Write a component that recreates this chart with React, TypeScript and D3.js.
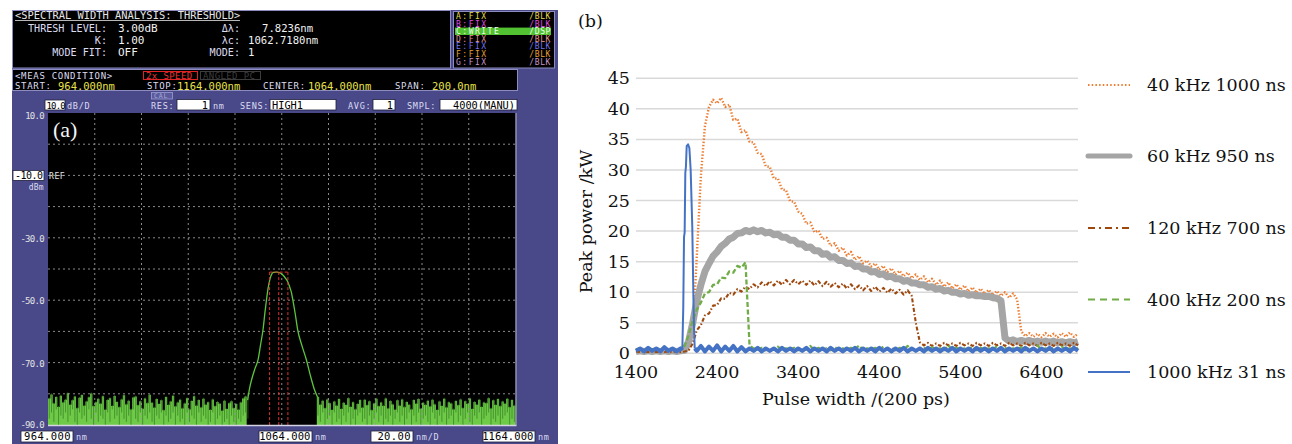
import React from "react";
import * as d3 from "d3";

// ---------- (a) optical spectrum ----------
const spanNm = [964, 1164];
const levelDb = [-90, 10];
const yTickLabels = [10, -30, -50, -70, -90];
const refLevel = -10;
// peak trace [nm, dBm]
const peakTrace: [number, number][] = [
  [1049.4, -82], [1050.3, -78], [1051.1, -75.5], [1052.5, -72], [1053.9, -69], [1055.0, -64],
  [1056.0, -59.4], [1056.8, -54], [1057.5, -49.7], [1058.2, -46], [1058.9, -43.4], [1059.6, -41.8],
  [1060.4, -41.1], [1062.0, -41.0], [1063.1, -41.2], [1064.6, -42], [1065.8, -43.2], [1066.7, -44.3],
  [1067.5, -46], [1068.1, -47.4], [1068.7, -49.7], [1069.8, -54.5], [1070.8, -59.4], [1072.6, -64.5],
  [1074.5, -69], [1076.2, -74], [1078.0, -78.7], [1079.3, -81],
];
// noise floor, 1 nm step
const noiseLeftStart = 964;
const noiseLeftTop = [
  -81.5, -80.2, -83.1, -81.0, -84.2, -80.6, -82.8, -81.9, -79.8, -83.5,
  -82.1, -80.9, -84.6, -81.3, -80.4, -83.8, -82.5, -81.1, -79.9, -84.0,
  -82.7, -81.6, -83.2, -80.8, -85.1, -82.0, -81.4, -83.9, -80.7, -82.6,
  -84.3, -81.8, -80.5, -83.4, -82.2, -85.0, -81.2, -80.9, -83.7, -82.4,
  -84.8, -81.5, -83.0, -80.3, -82.9, -84.5, -81.7, -83.3, -82.1, -85.3,
  -81.0, -83.6, -82.5, -80.6, -84.1, -82.8, -81.9, -84.7, -83.1, -81.4,
  -85.0, -82.3, -80.8, -83.8, -82.0, -84.4, -81.6, -83.5, -82.7, -85.2,
  -81.8, -84.0, -82.6, -83.2, -85.4, -82.2, -84.9, -83.0, -82.4, -84.6,
  -83.3, -85.1, -82.8, -81.5, -80.9, -80.0,
];
const noiseLeftLow = [
  -88, -86, -89, -85, -90, -87, -88, -86, -89, -87,
  -85, -89, -90, -86, -88, -87, -89, -85, -88, -90,
  -86, -89, -87, -88, -90, -86, -89, -85, -88, -87,
  -90, -86, -88, -89, -87, -90, -85, -88, -89, -86,
  -90, -87, -88, -86, -89, -90, -87, -88, -86, -90,
  -87, -89, -88, -86, -90, -87, -89, -88, -90, -86,
  -89, -87, -88, -90, -86, -89, -87, -88, -90, -89,
  -86, -90, -88, -87, -90, -89, -88, -90, -87, -89,
  -90, -88, -89, -87, -86, -88,
];
const noiseRightStart = 1079;
const noiseRightTop = [
  -81.0, -83.5, -82.2, -84.6, -81.8, -83.0, -85.2, -82.5, -83.8, -81.7,
  -84.9, -82.9, -83.6, -81.4, -84.2, -82.7, -85.0, -83.3, -82.0, -84.5,
  -81.9, -83.7, -82.4, -85.3, -83.1, -81.6, -84.0, -82.8, -83.9, -81.5,
  -84.7, -82.3, -83.4, -85.1, -82.1, -83.8, -81.8, -84.3, -82.6, -83.5,
  -85.0, -82.0, -83.2, -81.7, -84.8, -82.9, -83.6, -82.2, -84.1, -81.9,
  -83.4, -85.2, -82.5, -83.9, -81.6, -84.4, -82.7, -83.1, -85.0, -82.3,
  -83.7, -81.8, -84.6, -82.4, -83.3, -81.5, -84.9, -82.6, -83.5, -81.9,
  -84.2, -82.8, -83.0, -81.4, -84.7, -82.1, -83.6, -81.7, -84.0, -82.5,
  -83.2, -81.6, -84.3, -82.0, -83.8, -81.9,
];
const noiseRightLow = [
  -87, -89, -86, -90, -88, -87, -90, -86, -89, -88,
  -90, -87, -89, -86, -90, -88, -90, -87, -86, -89,
  -88, -90, -87, -90, -88, -86, -89, -87, -90, -88,
  -89, -87, -90, -88, -86, -89, -87, -90, -88, -86,
  -90, -87, -89, -86, -90, -88, -87, -89, -90, -86,
  -88, -90, -87, -89, -86, -90, -88, -87, -90, -86,
  -89, -87, -90, -88, -86, -89, -90, -87, -88, -86,
  -90, -88, -87, -86, -90, -88, -89, -87, -90, -88,
  -87, -86, -90, -88, -89, -87,
];
// threshold analysis: λc ± Δλ/2
const lambdaC = 1062.718;
const deltaLambda = 7.8236;
const peakLevel = -41;

const traceRows = [
  { label: "A:FIX", tail: "/BLK", color: "#e6df4e" },
  { label: "B:FIX", tail: "/BLK", color: "#e04ee0" },
  { label: "C:WRITE", tail: "/DSP", color: "#eaffea" },
  { label: "D:FIX", tail: "/BLK", color: "#e49a94" },
  { label: "E:FIX", tail: "/BLK", color: "#7474ee" },
  { label: "F:FIX", tail: "/BLK", color: "#e8a032" },
  { label: "G:FIX", tail: "/BLK", color: "#c896c8" },
];

// ---------- (b) peak power vs pulse width ----------
const pulse = d3.range(1400, 6851, 50);
const xTicksB = [1400, 2400, 3400, 4400, 5400, 6400];
const yTicksB = [0, 5, 10, 15, 20, 25, 30, 35, 40, 45];
const p40k = [
  0.4, 0.2, 0.5, 0.3, 0.4, 0.2, 0.5, 0.3, 0.4, 0.3,
  0.5, 0.3, 0.4, 0.6, 3.0, 16.0, 29.0, 37.2, 40.3, 41.5,
  40.9, 41.8, 40.3, 40.7, 38.2, 38.4, 36.2, 36.5, 34.6, 34.5,
  32.8, 32.6, 30.6, 30.5, 28.6, 28.6, 26.8, 26.7, 24.9, 24.8,
  23.2, 22.8, 21.2, 21.4, 19.8, 20.1, 18.7, 18.9, 17.6, 18.0,
  16.8, 17.3, 16.0, 16.6, 15.3, 15.9, 14.7, 15.2, 14.2, 14.7,
  13.7, 14.3, 13.3, 13.9, 12.9, 13.5, 12.6, 13.2, 12.3, 12.9,
  12.0, 12.6, 11.6, 12.2, 11.2, 11.9, 10.9, 11.6, 10.6, 11.3,
  10.4, 11.1, 10.1, 10.8, 9.9, 10.6, 9.7, 10.4, 9.5, 10.2,
  9.4, 10.0, 9.1, 9.8, 8.8, 3.6, 2.8, 3.3, 2.7, 3.2,
  2.6, 3.3, 2.7, 3.2, 2.6, 3.3, 2.7, 3.4, 2.7, 3.2,
];
const p60k = [
  0.3, 0.4, 0.3, 0.4, 0.3, 0.4, 0.3, 0.4, 0.3, 0.4,
  0.3, 0.4, 0.5, 2.0, 5.0, 8.6, 11.2, 13.4, 14.7, 15.9,
  16.6, 17.5, 18.0, 18.7, 19.0, 19.6, 19.7, 20.1, 19.9, 20.2,
  19.9, 20.1, 19.7, 19.8, 19.4, 19.5, 19.0, 19.0, 18.5, 18.5,
  17.9, 17.9, 17.3, 17.4, 16.8, 16.8, 16.2, 16.3, 15.7, 15.8,
  15.2, 15.2, 14.7, 14.8, 14.2, 14.3, 13.8, 13.8, 13.3, 13.4,
  12.9, 13.0, 12.5, 12.6, 12.2, 12.2, 11.8, 11.9, 11.5, 11.5,
  11.2, 11.2, 10.8, 10.9, 10.5, 10.6, 10.2, 10.3, 10.0, 10.0,
  9.7, 9.8, 9.5, 9.6, 9.4, 9.4, 9.3, 9.3, 9.1, 9.0,
  8.6, 2.5, 2.0, 2.2, 1.9, 2.1, 1.9, 2.1, 1.8, 2.0,
  1.8, 2.0, 1.8, 2.0, 1.7, 1.9, 1.7, 1.9, 1.7, 1.9,
];
const p120k = [
  0.3, 0.2, 0.3, 0.2, 0.3, 0.2, 0.3, 0.2, 0.3, 0.2,
  0.3, 0.2, 0.3, 0.5, 1.6, 3.8, 4.6, 6.2, 6.5, 7.8,
  7.9, 9.0, 8.9, 9.9, 9.6, 10.5, 10.1, 10.9, 10.5, 11.3,
  10.8, 11.6, 11.0, 11.8, 11.1, 11.9, 11.2, 12.0, 11.3, 12.0,
  11.3, 11.9, 11.2, 11.9, 11.1, 11.8, 11.0, 11.7, 10.9, 11.5,
  10.8, 11.4, 10.6, 11.3, 10.5, 11.1, 10.3, 11.0, 10.2, 10.9,
  10.1, 10.7, 9.9, 10.6, 9.8, 10.4, 9.6, 10.3, 9.4, 5.0,
  1.8, 1.3, 1.7, 1.2, 1.6, 1.2, 1.7, 1.3, 1.6, 1.2,
  1.7, 1.3, 1.6, 1.2, 1.7, 1.3, 1.6, 1.2, 1.7, 1.3,
  1.6, 1.2, 1.7, 1.3, 1.6, 1.2, 1.7, 1.3, 1.6, 1.2,
  1.7, 1.3, 1.6, 1.2, 1.7, 1.3, 1.6, 1.2, 1.7, 1.3,
];
const p400k = [
  0.6, 0.8, 0.5, 0.9, 0.6, 0.8, 0.5, 0.9, 0.6, 0.8,
  0.5, 0.7, 1.2, 3.0, 5.4, 7.2, 8.3, 9.8, 10.0, 11.2,
  11.3, 12.4, 12.3, 13.4, 13.2, 14.3, 14.0, 14.9, 1.3, 0.8,
  0.6, 0.9, 0.5, 0.8, 0.6, 1.1, 0.5, 0.8, 0.6, 0.9,
  0.5, 0.8, 0.6, 1.2, 0.5, 0.9, 0.6, 0.8, 0.5, 1.0,
  0.6, 0.8, 0.5, 0.9, 0.6, 1.3, 0.5, 0.8, 0.6, 0.9,
  0.5, 1.1, 0.6, 0.8, 0.5, 0.9, 0.6, 1.2, 0.5, 0.8,
  0.6, 0.9, 0.5, 1.0, 0.6, 0.8, 0.5, 1.3, 0.6, 0.9,
  0.5, 0.8, 0.6, 1.1, 0.5, 0.9, 0.6, 0.8, 0.5, 1.2,
  0.6, 0.9, 0.5, 0.8, 0.6, 1.0, 0.5, 0.9, 0.6, 1.3,
  0.5, 0.8, 0.6, 0.9, 0.5, 1.1, 0.6, 0.8, 0.5, 0.9,
];
// 1000 kHz: baseline before the spike (pulse[0..11]), the spike, baseline after (pulse[15..])
const p1000kBefore = [0.4, 0.8, 0.3, 0.9, 0.4, 0.8, 0.3, 1.0, 0.4, 0.8, 0.3, 0.8];
const p1000kSpike: [number, number][] = [
  [1971, 0.5], [1983, 7.6], [1992, 19.0], [2000, 19.8], [2008, 29.5], [2016, 30.6],
  [2025, 33.9], [2042, 34.2], [2058, 33.6], [2074, 30.0], [2094, 20.7], [2108, 9.0],
  [2115, 4.4], [2124, 0.8],
];
const p1000kAfter = [
  0.4, 1.2, 0.3, 1.1, 0.4, 1.3, 0.3, 1.1, 0.4, 1.2, 0.3, 1.0,
  0.3, 0.8, 0.4, 0.9, 0.3, 0.8, 0.4, 0.8, 0.3, 0.9,
  0.4, 0.8, 0.3, 0.8, 0.4, 0.9, 0.3, 0.8, 0.4, 0.8,
  0.3, 0.9, 0.4, 0.8, 0.3, 0.8, 0.4, 0.9, 0.3, 0.8,
  0.4, 0.8, 0.3, 0.9, 0.4, 0.8, 0.3, 0.8, 0.4, 0.9,
  0.3, 0.8, 0.4, 0.8, 0.3, 0.9, 0.4, 0.8, 0.3, 0.8,
  0.4, 0.9, 0.3, 0.8, 0.4, 0.8, 0.3, 0.9, 0.4, 0.8,
  0.3, 0.8, 0.4, 0.9, 0.3, 0.8, 0.4, 0.8, 0.3, 0.9,
  0.4, 0.8, 0.3, 0.8, 0.4, 0.9, 0.3, 0.8, 0.4, 0.8,
  0.3, 0.9, 0.4,
];
const seriesNames = ["40 kHz 1000 ns", "60 kHz 950 ns", "120 kHz 700 ns", "400 kHz 200 ns", "1000 kHz 31 ns"];

const OSA = "DejaVu Sans Mono";
const SERIF = "DejaVu Serif";

// analyser screen text
const M = ({ x, y, size = 9, ls = 0, fill = "#dcdcf0", anchor = "start", children }: any) => (
  <text x={x} y={y} fontFamily={OSA} fontSize={size} letterSpacing={ls} fill={fill} textAnchor={anchor}>
    {children}
  </text>
);

const Box = ({ x1, x2, y1, y2 }: any) => (
  <rect x={x1} y={y1} width={x2 - x1} height={y2 - y1} fill="#fff" stroke="#20203a" strokeWidth={0.8} />
);

function PanelA() {
  const x = d3.scaleLinear().domain(spanNm).range([48, 515.5]);
  const y = d3.scaleLinear().domain(levelDb).range([425, 113]);

  const noiseArea = (start: number) =>
    d3
      .area<number>()
      .x((_, i) => x(start + i))
      .y0(y(-90))
      .y1((d) => y(d))
      .curve(d3.curveStepAfter);

  const peakLine = d3
    .line<[number, number]>()
    .x((d) => x(d[0]))
    .y((d) => y(d[1]))
    .curve(d3.curveMonotoneX);

  const dips = (start: number, top: number[], low: number[]) =>
    top.map((t, i) => (
      <line
        key={i}
        x1={x(start + i) + 1.2}
        x2={x(start + i) + 1.2}
        y1={y(t) - 1}
        y2={y(low[i])}
        stroke="#327a24"
        strokeWidth={0.7}
      />
    ));

  const thresh = [lambdaC - deltaLambda / 2, lambdaC, lambdaC + deltaLambda / 2];
  const vGrid = d3.range(spanNm[0] + 20, spanNm[1], 20);
  const hGrid = d3.range(levelDb[0] + 10, levelDb[1], 10);

  return (
    <g>
      <rect x={12} y={10} width={546} height={434} fill="#49498a" />
      {/* header */}
      <rect x={12.5} y={10.5} width={438} height={57.5} fill="#000" stroke="#8c8cc0" />
      <M x={15} y={18.5} size={10.4} fill="#e6e6e6">{"<SPECTRAL WIDTH ANALYSIS: THRESHOLD>"}</M>
      <line x1={15} x2={240} y1={20.5} y2={20.5} stroke="#e6e6e6" strokeWidth={0.8} />
      <M x={107} y={31.5} size={10.1} anchor="end">THRESH LEVEL:</M>
      <M x={107} y={43.5} size={10.1} anchor="end">K:</M>
      <M x={107} y={55.5} size={10.1} anchor="end">MODE FIT:</M>
      <M x={118} y={32} size={11} fill="#f2f2f2">3.00dB</M>
      <M x={118} y={44} size={11} fill="#f2f2f2">1.00</M>
      <M x={118} y={56} size={11} fill="#f2f2f2">OFF</M>
      <M x={240} y={31.5} size={10.1} anchor="end">Δλ:</M>
      <M x={240} y={43.5} size={10.1} anchor="end">λc:</M>
      <M x={240} y={55.5} size={10.1} anchor="end">MODE:</M>
      <M x={262} y={32} size={10.6} fill="#f2f2f2">{deltaLambda.toFixed(4) + "nm"}</M>
      <M x={248} y={44} size={10.6} fill="#f2f2f2">{lambdaC.toFixed(4) + "nm"}</M>
      <M x={248} y={56} size={10.6} fill="#f2f2f2">1</M>

      {/* trace list */}
      <rect x={453.5} y={11.5} width={101} height={56.5} fill="#000" stroke="#8c8cc0" />
      {traceRows.map((r, i) => {
        const cy = 16 + i * 7.6;
        return (
          <g key={r.label}>
            {r.label === "C:WRITE" && <rect x={455} y={cy - 3.6} width={96} height={7.4} fill="#52c232" />}
            <M x={456} y={cy + 3} size={8} ls={1.5} fill={r.color}>{r.label}</M>
            <M x={551} y={cy + 3} size={8} ls={0.6} fill={r.color} anchor="end">{r.tail}</M>
          </g>
        );
      })}

      {/* measurement condition */}
      <rect x={12.5} y={69.5} width={505} height={21} fill="#000" stroke="#8c8cc0" />
      <M x={15} y={78.5} size={9} ls={0.7}>{"<MEAS CONDITION>"}</M>
      <rect x={143.5} y={71.5} width={54} height={8} fill="none" stroke="#e02424" />
      <M x={146} y={78.5} size={9} ls={0.4} fill="#ee3030">2x SPEED</M>
      <rect x={200.5} y={71.5} width={60} height={8} fill="none" stroke="#3c3c3c" />
      <M x={203} y={78.5} size={9} ls={0.4} fill="#3c3c3c">ANGLED PC</M>
      <M x={15} y={89} size={9} ls={0.7}>START:</M>
      <M x={58} y={89.5} size={10.5} fill="#e8e24a">964.000nm</M>
      <M x={147} y={89} size={9} ls={0.7}>STOP:</M>
      <M x={177} y={89.5} size={10.5} fill="#e8e24a">1164.000nm</M>
      <M x={263} y={89} size={9} ls={0.7}>CENTER:</M>
      <M x={308} y={89.5} size={10.5} fill="#e8e24a">1064.000nm</M>
      <M x={395} y={89} size={9} ls={0.7}>SPAN:</M>
      <M x={432} y={89.5} size={10.5} fill="#e8e24a">200.0nm</M>

      {/* settings row */}
      <Box x1={45} x2={65} y1={100} y2={110} />
      <M x={46.5} y={108.8} size={9} ls={-0.8} fill="#000">10.0</M>
      <M x={67} y={109} size={8.5} ls={0.7}>dB/D</M>
      <rect x={151.5} y={92.5} width={21} height={6.5} fill="#5a5a9c" stroke="#9c9cd4" strokeWidth={0.8} />
      <M x={154} y={98.4} size={6.5} ls={0.8} fill="#a8a8d8">CAL</M>
      <M x={151} y={109} size={8.5} ls={0.7}>RES:</M>
      <Box x1={177} x2={210} y1={99.5} y2={110} />
      <M x={208} y={109} size={10.3} fill="#000" anchor="end">1</M>
      <M x={213} y={109} size={8.5} ls={0.7}>nm</M>
      <M x={240} y={109} size={8.5} ls={0.7}>SENS:</M>
      <Box x1={270} x2={336} y1={99.5} y2={110} />
      <M x={272} y={109} size={10.3} fill="#000">HIGH1</M>
      <M x={348} y={109} size={8.5} ls={0.7}>AVG:</M>
      <Box x1={373} x2={395} y1={99.5} y2={110} />
      <M x={393} y={109} size={10.3} fill="#000" anchor="end">1</M>
      <M x={407} y={109} size={8.5} ls={0.7}>SMPL:</M>
      <Box x1={440} x2={517} y1={99.5} y2={110} />
      <M x={515} y={109} size={10.3} fill="#000" anchor="end">4000(MANU)</M>

      {/* plot */}
      <rect x={x(spanNm[0])} y={y(levelDb[1])} width={x(spanNm[1]) - x(spanNm[0])} height={y(levelDb[0]) - y(levelDb[1])} fill="#000" />
      <path d={noiseArea(noiseLeftStart)(noiseLeftTop) || ""} fill="#6fcb47" />
      <path d={noiseArea(noiseRightStart)(noiseRightTop) || ""} fill="#6fcb47" />
      {dips(noiseLeftStart, noiseLeftTop, noiseLeftLow)}
      {dips(noiseRightStart, noiseRightTop, noiseRightLow)}
      <g stroke="#9a9a9a" strokeWidth={1} strokeDasharray="2 3" opacity={0.9}>
        {vGrid.map((v) => (
          <line key={"v" + v} x1={x(v)} x2={x(v)} y1={y(levelDb[1])} y2={y(levelDb[0])} />
        ))}
        {hGrid.map((v) => (
          <line key={"h" + v} x1={x(spanNm[0])} x2={x(spanNm[1])} y1={y(v)} y2={y(v)} />
        ))}
      </g>
      <path d={peakLine(peakTrace) || ""} fill="none" stroke="#5ec43e" strokeWidth={1.3} />
      <g stroke="#e23232" strokeWidth={1} strokeDasharray="3 2" fill="none">
        {thresh.map((v) => (
          <line key={v} x1={x(v)} x2={x(v)} y1={y(peakLevel)} y2={y(levelDb[0])} />
        ))}
        <line x1={x(thresh[0])} x2={x(thresh[2])} y1={y(peakLevel)} y2={y(peakLevel)} />
      </g>
      <line x1={x(spanNm[0])} x2={x(spanNm[1]) + 1} y1={y(levelDb[0]) + 0.5} y2={y(levelDb[0]) + 0.5} stroke="#d4d4e4" strokeWidth={1.5} />
      <line x1={x(spanNm[1]) + 0.5} x2={x(spanNm[1]) + 0.5} y1={y(levelDb[1])} y2={y(levelDb[0])} stroke="#b4b4c8" strokeWidth={1} />
      <text x={53} y={137} fontFamily="Liberation Serif" fontSize={22} fill="#f4f4f4">(a)</text>

      {/* level labels */}
      {yTickLabels.map((v) => (
        <M key={v} x={44} y={Math.min(y(v) + 4, 428) + (v === 10 ? 2 : 0)} size={9} ls={-0.7} fill="#e2e2e2" anchor="end">
          {v.toFixed(1)}
        </M>
      ))}
      <Box x1={13} x2={44} y1={y(refLevel) - 5} y2={y(refLevel) + 5} />
      <M x={42.5} y={y(refLevel) + 3.8} size={10} ls={-0.5} fill="#000" anchor="end">{refLevel.toFixed(1)}</M>
      <M x={44} y={y(refLevel) + 14.5} size={8} ls={0.3} anchor="end">dBm</M>
      <M x={49} y={y(refLevel) + 3.5} size={8} ls={0.6} fill="#e6e6e6">REF</M>

      {/* bottom span labels */}
      <Box x1={21} x2={73} y1={431} y2={442} />
      <M x={71} y={440.3} size={10.5} ls={0.4} fill="#000" anchor="end">964.000</M>
      <M x={76} y={440} size={8.5} ls={0.7}>nm</M>
      <Box x1={259} x2={312} y1={431} y2={442} />
      <M x={310.5} y={440.3} size={10.5} ls={0.1} fill="#000" anchor="end">1064.000</M>
      <M x={315} y={440} size={8.5} ls={0.7}>nm</M>
      <Box x1={371} x2={413} y1={431} y2={442} />
      <M x={411} y={440.3} size={10.5} ls={0.4} fill="#000" anchor="end">20.00</M>
      <M x={416} y={440} size={8.5} ls={0.7}>nm/D</M>
      <Box x1={483} x2={535} y1={431} y2={442} />
      <M x={533.5} y={440.3} size={10.5} ls={0.1} fill="#000" anchor="end">1164.000</M>
      <M x={538} y={440} size={8.5} ls={0.7}>nm</M>
    </g>
  );
}

function PanelB() {
  const x = d3.scaleLinear().domain([pulse[0], pulse[pulse.length - 1]]).range([636, 1078]);
  const y = d3.scaleLinear().domain([0, 45]).range([353.3, 78.3]);
  const line = d3
    .line<[number, number]>()
    .x((d) => x(d[0]))
    .y((d) => y(d[1]));

  const onGrid = (vals: number[], offset = 0): [number, number][] => vals.map((v, i) => [pulse[i + offset], v]);
  const blueBefore = onGrid(p1000kBefore);
  const blueAfter = onGrid(p1000kAfter, 15);

  const series = [
    { name: seriesNames[0], data: onGrid(p40k), color: "#ed7d31", width: 2.4, dash: "1.4 1.8", legendDash: "1.5 2.2", legendWidth: 1.8 },
    { name: seriesNames[1], data: onGrid(p60k), color: "#a5a5a5", width: 7, dash: undefined, legendDash: undefined, legendWidth: 5 },
    { name: seriesNames[2], data: onGrid(p120k), color: "#9e480e", width: 2.1, dash: "4 2 1.5 2", legendDash: "7 4 2 4", legendWidth: 1.8 },
    { name: seriesNames[3], data: onGrid(p400k), color: "#70ad47", width: 2.3, dash: "5 2.5", legendDash: "7 5", legendWidth: 1.8 },
  ];
  const blueColor = "#4472c4";
  const legend = [...series.map((s) => ({ ...s })), { name: seriesNames[4], color: blueColor, legendWidth: 2, legendDash: undefined }];
  const legendY = [85, 156, 228, 299.5, 372];

  return (
    <g fontFamily={SERIF} fill="#111">
      <text x={578} y={27} fontSize={17.5}>(b)</text>
      <g stroke="#d9d9d9" strokeWidth={1.5}>
        {yTicksB.map((v) => (
          <line key={v} x1={x.range()[0]} x2={x.range()[1]} y1={y(v)} y2={y(v)} />
        ))}
      </g>
      {yTicksB.map((v) => (
        <text key={v} x={630} y={y(v) + 6} fontSize={17.5} textAnchor="end">{v}</text>
      ))}
      {xTicksB.map((v) => (
        <text key={v} x={x(v)} y={378} fontSize={17.5} textAnchor="middle">{v}</text>
      ))}
      <text x={856} y={405} fontSize={17.5} textAnchor="middle">Pulse width /(200 ps)</text>
      <text transform="translate(592,221.5) rotate(-90)" fontSize={17.5} textAnchor="middle">Peak power /kW</text>

      {series.map((s) => (
        <path
          key={s.name}
          d={line(s.data) || ""}
          fill="none"
          stroke={s.color}
          strokeWidth={s.width}
          strokeDasharray={s.dash}
          strokeLinejoin="round"
        />
      ))}
      {/* 1000 kHz on top: thin spike, thick noisy baseline */}
      <path d={line([...blueBefore, p1000kSpike[0]]) || ""} fill="none" stroke={blueColor} strokeWidth={4} strokeLinejoin="round" />
      <path d={line(p1000kSpike) || ""} fill="none" stroke={blueColor} strokeWidth={2} strokeLinejoin="round" />
      <path d={line([p1000kSpike[p1000kSpike.length - 1], ...blueAfter]) || ""} fill="none" stroke={blueColor} strokeWidth={4} strokeLinejoin="round" />

      {legend.map((s, i) => (
        <g key={"lg" + s.name}>
          <line
            x1={1088}
            x2={1130}
            y1={legendY[i]}
            y2={legendY[i]}
            stroke={s.color}
            strokeWidth={s.legendWidth}
            strokeDasharray={s.legendDash}
            strokeLinecap={i === 1 ? "round" : "butt"}
          />
          <text x={1147} y={legendY[i] + 6} fontSize={17.5}>{s.name}</text>
        </g>
      ))}
    </g>
  );
}

export default function App() {
  return (
    <svg
      width={1292}
      height={444}
      viewBox="0 0 1292 444"
      style={{ position: "absolute", left: 0, top: 0, background: "#fff" }}
    >
      <PanelA />
      <PanelB />
    </svg>
  );
}
